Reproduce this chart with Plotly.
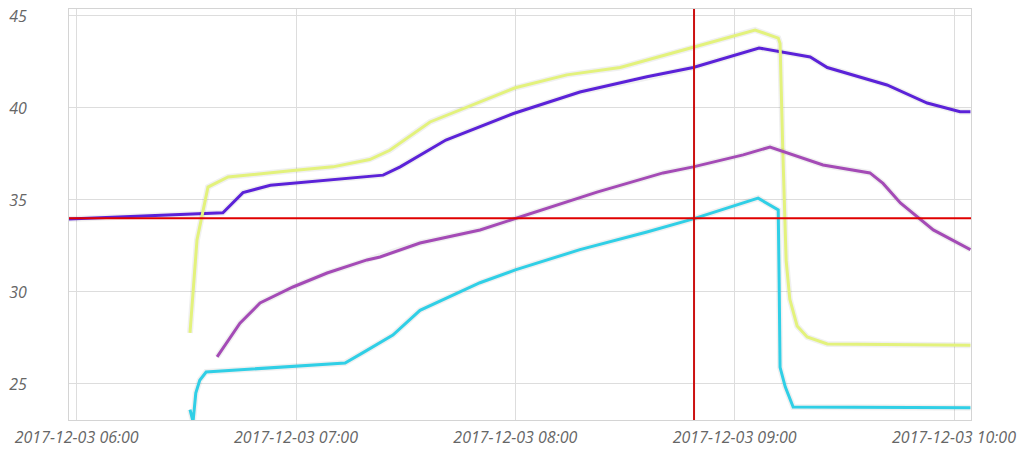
import plotly.graph_objects as go

D = "2017-12-03 "

violet_t = ["05:57:50", "06:40:00", "06:45:30", "06:53:00", "07:23:50", "07:28:30", "07:41:00",
            "07:59:30", "08:17:40", "08:36:00", "08:48:40", "09:06:40", "09:20:40", "09:25:20",
            "09:41:40", "09:52:40", "10:01:40", "10:04:30"]
violet_v = [33.97, 34.3, 35.4, 35.8, 36.35, 36.8, 38.26,
            39.7, 40.87, 41.7, 42.2, 43.26, 42.77, 42.2,
            41.25, 40.27, 39.8, 39.8]

yellow_t = ["06:31:00", "06:32:55", "06:35:55", "06:41:25", "06:59:10", "07:10:05", "07:20:10",
            "07:23:00", "07:25:40", "07:36:40", "07:55:00", "08:00:00", "08:14:05", "08:28:40",
            "08:48:40", "09:05:35", "09:11:55", "09:12:25", "09:13:10", "09:14:05", "09:15:05",
            "09:17:05", "09:19:50", "09:25:20", "10:04:30"]
yellow_v = [27.77, 32.83, 35.7, 36.25, 36.6, 36.8, 37.2,
            37.45, 37.7, 39.24, 40.7, 41.1, 41.8, 42.2,
            43.3, 44.24, 43.8, 43.5, 37.7, 31.7, 29.6,
            28.15, 27.55, 27.17, 27.1]

magenta_t = ["06:38:25", "06:44:40", "06:50:10", "06:59:10", "07:08:30", "07:19:25", "07:23:00",
             "07:33:55", "07:50:20", "08:00:00", "08:22:20", "08:40:25", "08:48:40", "09:02:20",
             "09:09:40", "09:24:10", "09:37:00", "09:40:35", "09:45:20", "09:54:20", "10:04:30"]
magenta_v = [26.47, 28.3, 29.4, 30.27, 31.03, 31.74, 31.9,
             32.66, 33.37, 34.0, 35.43, 36.47, 36.8, 37.45,
             37.88, 36.9, 36.47, 35.9, 34.84, 33.37, 32.3]

cyan_t = ["06:31:00", "06:31:50", "06:32:35", "06:33:40", "06:35:25", "07:13:25", "07:18:20",
          "07:26:30", "07:33:55", "07:50:20", "08:00:00", "08:17:40", "08:36:00", "08:48:40",
          "09:06:25", "09:11:55", "09:12:10", "09:12:25", "09:13:50", "09:16:00", "10:04:30"]
cyan_v = [23.6, 22.95, 24.5, 25.2, 25.65, 26.14, 26.7,
          27.66, 29.0, 30.5, 31.2, 32.3, 33.26, 33.97,
          35.1, 34.46, 30.5, 25.9, 24.84, 23.75, 23.7]

cross_x = "08:48:53"
cross_y = 34.0

x_range = ["05:57:54", "10:04:39"]
y_range = [23.04, 45.38]
x_ticks = ["06:00", "07:00", "08:00", "09:00", "10:00"]
y_ticks = [25, 30, 35, 40, 45]

series = [
    (violet_t, violet_v, "#5b22d8"),
    (yellow_t, yellow_v, "#e3f27c"),
    (magenta_t, magenta_v, "#a44bb6"),
    (cyan_t, cyan_v, "#30cfe6"),
]

fig = go.Figure()
for t, v, c in series:
    xs = [D + s for s in t]
    fig.add_trace(go.Scatter(x=xs, y=v, mode="lines", hoverinfo="skip", showlegend=False,
                             line=dict(color="rgba(0,0,0,0.06)", width=6)))
    fig.add_trace(go.Scatter(x=xs, y=v, mode="lines", showlegend=False,
                             line=dict(color=c, width=3)))

fig.add_shape(type="line", xref="x", yref="paper", x0=D + cross_x, x1=D + cross_x, y0=0, y1=1,
              line=dict(color="#cc1111", width=2), layer="above")
fig.add_shape(type="line", xref="paper", yref="y", x0=0, x1=1, y0=cross_y, y1=cross_y,
              line=dict(color="#e00000", width=2), layer="above")

tickfont = dict(family="Open Sans", size=16, color="#666666", style="italic")

fig.update_layout(
    width=1030, height=455,
    margin=dict(l=69, r=59, t=9, b=35, autoexpand=False),
    paper_bgcolor="white", plot_bgcolor="white",
    xaxis=dict(range=[D + x_range[0], D + x_range[1]],
               tickvals=[D + s for s in x_ticks],
               ticktext=[D + s for s in x_ticks],
               showgrid=True, gridcolor="#dddddd", gridwidth=1,
               showline=True, linecolor="#d4d4d4", linewidth=1, mirror=True,
               zeroline=False, tickfont=tickfont, ticklabelstandoff=3,
               ticklabeloverflow="allow", automargin=False),
    yaxis=dict(range=y_range, tickvals=y_ticks,
               showgrid=True, gridcolor="#dddddd", gridwidth=1,
               showline=True, linecolor="#d4d4d4", linewidth=1, mirror=True,
               zeroline=False, tickfont=tickfont, ticklabelstandoff=38,
               ticklabeloverflow="allow", automargin=False),
)

fig.write_html("out.html", config={"displayModeBar": False},
               post_script="document.body.style.margin='0';document.body.style.overflow='hidden';")
